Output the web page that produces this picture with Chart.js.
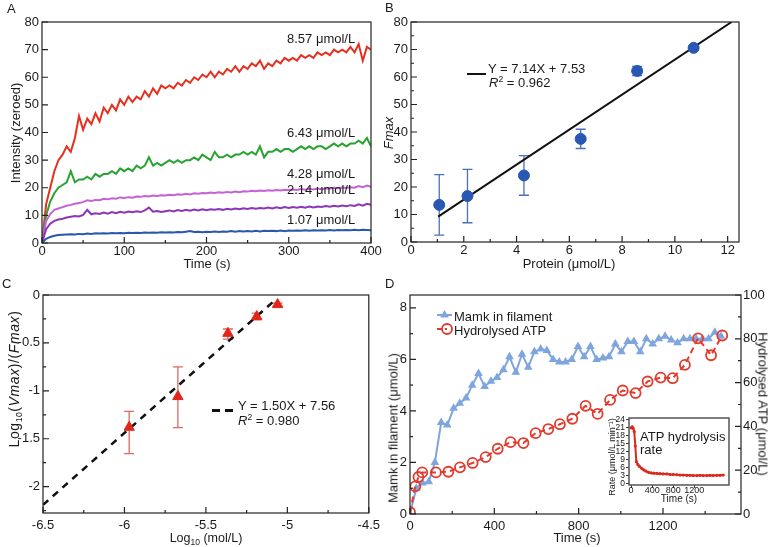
<!DOCTYPE html>
<html>
<head>
<meta charset="utf-8">
<script src="https://cdn.jsdelivr.net/npm/chart.js@4.4.0/dist/chart.umd.min.js"></script>
<style>
  html, body { margin: 0; padding: 0; background: #fff; }
  #fig { position: relative; width: 771px; height: 547px; overflow: hidden;
         font-family: 'Liberation Sans', Arial, Helvetica, sans-serif; color: #1a1a1a; }
  #fig canvas { position: absolute; }
  .t { position: absolute; font-size: 13px; line-height: 15px; white-space: nowrap; z-index: 5; }
  .c { transform: translate(-50%, -50%); }
  .r { transform: translate(-50%, -50%) rotate(-90deg); }
  .r2 { transform: translate(-50%, -50%) rotate(90deg); }
  .sub { font-size: 8.5px; position: relative; top: 3px; }
  .sup { font-size: 8.5px; position: relative; top: -5px; }
  .bar { position: absolute; background: #111; z-index: 5; }
</style>
</head>
<body>
<div id="fig">
  <canvas id="cA" width="385" height="275" style="left:0;top:0"></canvas>
  <canvas id="cB" width="396" height="275" style="left:375px;top:0"></canvas>
  <canvas id="cC" width="385" height="272" style="left:0;top:275px"></canvas>
  <canvas id="cD" width="396" height="272" style="left:375px;top:275px"></canvas>
  <canvas id="cI" width="135" height="100" style="left:600px;top:405px;z-index:3"></canvas>

  <!-- panel letters -->
  <div class="t" style="left:7px;top:1px">A</div>
  <div class="t" style="left:385px;top:0">B</div>
  <div class="t" style="left:2px;top:276px">C</div>
  <div class="t" style="left:385px;top:276px">D</div>

  <!-- A -->
  <div class="t" style="left:287px;top:31px">8.57 μmol/L</div>
  <div class="t" style="left:287px;top:125px">6.43 μmol/L</div>
  <div class="t" style="left:287px;top:166px">4.28 μmol/L</div>
  <div class="t" style="left:287px;top:182px">2.14 μmol/L</div>
  <div class="t" style="left:287px;top:212px">1.07 μmol/L</div>
  <div class="t c" style="left:207px;top:263px">Time (s)</div>
  <div class="t r" style="left:15px;top:133px">Intensity (zeroed)</div>

  <!-- B -->
  <div class="bar" style="left:467px;top:72.5px;width:19px;height:2.5px"></div>
  <div class="t" style="left:488px;top:60.5px">Y = 7.14X + 7.53</div>
  <div class="t" style="left:489px;top:74.5px"><i>R</i><span class="sup">2</span> = 0.962</div>
  <div class="t c" style="left:569px;top:263px">Protein (μmol/L)</div>
  <div class="t r" style="left:388px;top:133px"><i>Fmax</i></div>

  <!-- C -->
  <div class="bar" style="left:212px;top:408.5px;width:8px;height:3px"></div>
  <div class="bar" style="left:225px;top:408.5px;width:8px;height:3px"></div>
  <div class="t" style="left:238px;top:397.5px">Y = 1.50X + 7.56</div>
  <div class="t" style="left:238px;top:412.5px"><i>R</i><span class="sup">2</span> = 0.980</div>
  <div class="t c" style="left:206px;top:539px;font-size:12.5px">Log<span class="sub">10</span> (mol/L)</div>
  <div class="t r" style="left:15px;top:379px;font-size:14px;letter-spacing:0.6px">Log<span class="sub">10</span>(<i>Vmax</i>)/(<i>Fmax</i>)</div>

  <!-- D -->
  <div class="t" style="left:454px;top:308.5px">Mamk in filament</div>
  <div class="t" style="left:454px;top:322.5px">Hydrolysed ATP</div>
  <div class="t c" style="left:577px;top:537px">Time (s)</div>
  <div class="t r" style="left:393px;top:428px">Mamk in filament (μmol/L)</div>
  <div class="t r2" style="left:763px;top:404px">Hydrolysed ATP (μmol/L)</div>
  <div class="t" style="left:640px;top:429.5px;line-height:13.5px">ATP hydrolysis<br>rate</div>
  <div class="t c" style="left:679px;top:499px;font-size:10px;line-height:12px">Time (s)</div>
  <div class="t r" style="left:612px;top:457px;font-size:9px;line-height:11px">Rate (μmol/L min⁻¹)</div>
</div>

<script>
// ─── data: panel A (kinetic traces) ─────────────────────────────────────
const aT = [0,5,10,15,20,25,30,35,40,45,50,55,60,65,70,75,80,85,90,95,
  100,105,110,115,120,125,130,135,140,145,150,155,160,165,170,175,180,185,190,195,
  200,205,210,215,220,225,230,235,240,245,250,255,260,265,270,275,280,285,290,295,
  300,305,310,315,320,325,330,335,340,345,350,355,360,365,370,375,380,385,390,395,400];
const aRed = [0,14,20,26,30,32,35,33,38,46, 41,45,43,47,44,49,47,50,48,52,
  50,53,51,53,52,55,53,56,54,57, 56,57,56,58,57,59,58,60,59,61,
  60,62,60,62,61,63,62,64,62,64, 63,65,64,66,63,65,64,66,65,67,
  66,67,66,68,67,68,67,69,68,69, 68,70,69,70,69,71,69,72,66,71, 70];
const aGreen = [0,10,15,18,20,21,22,26,22,23, 23,24,23,25,24,25,25,26,25,27,
  26,27,26,28,27,28,31,28,29,28, 29,30,29,30,29,30,30,31,30,32,
  31,30,33,31,31,32,31,32,32,33, 32,33,32,35,31,33,33,34,33,34,
  34,33,34,35,34,35,34,35,35,34, 35,36,35,36,35,36,36,37,36,38, 35];
const aMagenta = [0,8,10.5,12,12.5,13,13.5,13.8,14.2,14.5, 14.8,15.5,15.2,15.6,15.5,16,15.8,16.2,16,16.5,
  16.3,16.6,16.4,16.8,16.7,17,16.8,17.2,17,17.3, 17.2,17.5,17.3,17.6,17.5,17.8,17.6,18,17.8,18.1,
  18,18.3,18.1,18.4,18.2,18.5,18.3,18.6,18.4,18.7, 18.6,18.9,18.7,19,18.8,19.1,18.9,19.2,19,19.3,
  19.2,19.4,19.2,19.5,19.3,19.6,19.4,19.7,19.5,19.8, 19.7,20,19.8,20.1,19.9,20.2,20,20.6,20.2,20.8, 20.3];
const aPurple = [0,5,7,8,8.5,8.8,9.2,9.5,9.8,9.6, 10.2,12,10.4,10.8,10.5,11,10.6,11.2,10.8,11.3,
  11,11.4,11.1,11.5,11.2,11.8,12.8,11.3,11.6,11.2, 11.5,11.8,11.4,11.9,11.6,12,11.7,12.1,11.8,12.2,
  11.9,12.2,12,12.3,12,12.4,12.1,12.5,12.2,12.6, 12.3,12.7,12.4,12.7,12.5,12.8,12.5,12.9,12.6,13,
  12.7,13,12.8,13.1,12.8,13.2,12.9,13.2,13,13.4, 13.1,13.5,13.2,13.6,13.3,13.7,13.4,14,13.5,14.2, 13.8];
const aBlue = [0,1.5,2.2,2.6,2.9,3,3.1,3.2,3.1,3.3, 3.2,3.4,3.3,3.5,3.4,3.5,3.4,3.6,3.5,3.6,
  3.5,3.7,3.6,3.7,3.6,3.8,3.7,3.8,3.7,3.9, 3.8,3.9,3.8,4,3.9,4.1,4.3,4,4.1,3.9,
  4.1,4,4.2,4,4.2,4.1,4.3,4.1,4.3,4.2, 4.3,4.2,4.4,4.2,4.4,4.3,4.4,4.3,4.5,4.3,
  4.5,4.4,4.5,4.4,4.6,4.4,4.6,4.5,4.6,4.5, 4.7,4.5,4.7,4.6,4.7,4.6,4.8,4.6,4.8,4.7, 4.6];
const aXTicks = [0, 100, 200, 300, 400];
const aXMinor = [50, 150, 250, 350];
const aYTicks = [0, 10, 20, 30, 40, 50, 60, 70, 80];

// ─── data: panel B (Fmax vs protein) ────────────────────────────────────
const bProtein = [1.07, 2.14, 4.28, 6.43, 8.57, 10.71];
const bFmax = [13.5, 16.7, 24.2, 37.5, 62.2, 70.6];
const bErr = [11, 9.7, 7.2, 3.5, 1.7, 0.8];
const bFitX = [1.03, 12.15];
const bFitY = [9.2, 80];
const bXTicks = [0, 2, 4, 6, 8, 10, 12];
const bXMinor = [1, 3, 5, 7, 9, 11];
const bYTicks = [0, 10, 20, 30, 40, 50, 60, 70, 80];
const bYMinor = [5, 15, 25, 35, 45, 55, 65, 75];

// ─── data: panel C (log-log) ────────────────────────────────────────────
const cLogC = [-5.971, -5.672, -5.365, -5.188, -5.06];
const cLogV = [-1.38, -1.06, -0.40, -0.225, -0.10];
const cHigh = [-1.215, -0.75, -0.355, -0.19, -0.085];
const cLow = [-1.655, -1.385, -0.46, -0.26, -0.115];
const cFitX = [-6.5, -5.08];
const cFitY = [-2.19, -0.06];
const cXTicks = [-6.5, -6, -5.5, -5, -4.5];
const cXMinor = [-6.25, -5.75, -5.25, -4.75];
const cYTicks = [0, -0.5, -1, -1.5, -2];
const cYMinor = [-0.25, -0.75, -1.25, -1.75, -2.25];

// ─── data: panel D (filament + ATP) ─────────────────────────────────────
const dMamkT = [0,30,59,89,118,148,177,207,236,266,295,325,354,384,413,443,472,502,531,561,
  590,620,649,679,708,738,767,797,826,856,885,915,944,974,1003,1033,1062,1092,1121,1151,
  1180,1210,1239,1269,1298,1328,1357,1387,1416,1446,1475];
const dMamk = [0,1.0,1.2,1.25,2.0,3.55,3.45,4.1,4.3,4.5, 5.0,5.45,4.95,5.15,5.3,5.6,6.1,5.5,6.2,5.7,
  6.3,6.4,6.35,6.0,5.9,5.9,6.0,6.5,6.1,6.5, 6.0,6.05,6.1,6.6,6.3,6.7,6.7,6.3,6.8,6.6,
  6.8,6.9,6.75,6.65,6.8,6.8,6.8,6.8,6.8,7.05,6.9];
const dAtpT = [0,25,40,58,123,182,237,297,359,416,477,538,596,656,711,770,833,890,949,1009,
  1070,1127,1189,1246,1304,1366,1428,1481];
const dAtp = [0.8,12.6,16.9,19.0,19.0,19.3,21.3,23.3,26.0,29.8,32.8,32.4,36.9,38.8,41.0,43.5,49.4,45.7,52.1,56.4,
  55.2,60.5,62.3,62.0,68.1,80.2,72.5,81.5];
const dXTicks = [0, 400, 800, 1200];
const dXMinor = [200, 600, 1000, 1400];
const dYTicks = [0, 2, 4, 6, 8];
const dYMinor = [1, 3, 5, 7];
const dY1Ticks = [0, 20, 40, 60, 80, 100];
const dY1Minor = [10, 30, 50, 70, 90];

// inset: ATP hydrolysis rate
const iT = [0,20,40,60,80,100,130,160,200,240,280,330,380,430,490,550,610,680,740,800,
  870,930,990,1060,1120,1180,1250,1310,1370,1440,1500,1560,1630,1690,1750];
const iRate = [20.8,21.2,20.6,19.4,14,8.1,7.0,6.3,5.6,5.0,4.6,4.1,3.9,3.8,3.7,3.6,3.5,3.5,3.3,3.3,
  3.2,3.1,3.1,3.0,3.0,2.9,2.9,3.0,2.9,2.9,3.0,2.9,3.0,3.0,3.1];
const iXTicks = [0, 400, 800, 1200];
const iYTicks = [0, 3, 6, 9, 12, 15, 18, 21, 24];

// ─── helpers ────────────────────────────────────────────────────────────
const INK = '#1a1a1a';
const FONT = "'Liberation Sans', Arial, Helvetica, sans-serif";
Chart.defaults.font.family = FONT;
Chart.defaults.color = INK;

const xy = (xs, ys) => xs.map((x, i) => ({ x: x, y: ys[i] }));

// box round the plot area, ticks pointing inward
const framePlugin = {
  id: 'frame',
  beforeDraw(chart, args, o) {
    if (!o.fill) return;
    const a = chart.chartArea, ctx = chart.ctx;
    ctx.save();
    ctx.fillStyle = o.fill;
    ctx.fillRect(a.left, a.top, a.right - a.left, a.bottom - a.top);
    ctx.restore();
  },
  afterDraw(chart, args, o) {
    const a = chart.chartArea, ctx = chart.ctx;
    ctx.save();
    ctx.strokeStyle = o.color || '#222';
    ctx.lineWidth = o.width || 1.2;
    ctx.strokeRect(a.left, a.top, a.right - a.left, a.bottom - a.top);
    if (!o.noTicks) {
      ctx.beginPath();
      Object.values(chart.scales).forEach(s => {
        const minor = (o.minor && o.minor[s.id]) || [];
        const marks = s.ticks.map(t => [t.value, 6]).concat(minor.map(v => [v, 3]));
        marks.forEach(([v, len]) => {
          const p = s.getPixelForValue(v);
          if (s.isHorizontal()) { ctx.moveTo(p, a.bottom); ctx.lineTo(p, a.bottom - len); }
          else if (s.position === 'right') { ctx.moveTo(a.right, p); ctx.lineTo(a.right - len, p); }
          else { ctx.moveTo(a.left, p); ctx.lineTo(a.left + len, p); }
        });
      });
      ctx.stroke();
    }
    ctx.restore();
  }
};

// vertical error bars with caps
const errPlugin = {
  id: 'errbars',
  beforeDatasetsDraw(chart, args, o) {
    if (!o.xs) return;
    const sx = chart.scales.x, sy = chart.scales.y, ctx = chart.ctx;
    ctx.save();
    ctx.strokeStyle = o.color;
    ctx.lineWidth = 1.3;
    ctx.beginPath();
    o.xs.forEach((xv, i) => {
      const px = sx.getPixelForValue(xv);
      const p1 = sy.getPixelForValue(o.lo[i]), p2 = sy.getPixelForValue(o.hi[i]);
      ctx.moveTo(px, p1); ctx.lineTo(px, p2);
      ctx.moveTo(px - 5, p1); ctx.lineTo(px + 5, p1);
      ctx.moveTo(px - 5, p2); ctx.lineTo(px + 5, p2);
    });
    ctx.stroke();
    ctx.restore();
  }
};
Chart.register(framePlugin, errPlugin);

function axis(min, max, ticks, extra, fontSize) {
  return Object.assign({
    type: 'linear', min: min, max: max,
    grid: { display: false, drawTicks: false }, border: { display: false },
    afterBuildTicks: s => { s.ticks = ticks.map(v => ({ value: v })); },
    ticks: { font: { size: fontSize || 13 }, color: INK, padding: 3, autoSkip: false,
             maxRotation: 0, callback: v => String(v) },
  }, extra);
}
function fitW(w) { return s => { s.width = w; }; }
function fitH(h) { return s => { s.height = h; }; }

function options(pad, scales, plugins) {
  return {
    responsive: false, animation: false, devicePixelRatio: 1, events: [],
    layout: { padding: pad },
    plugins: Object.assign({ legend: { display: false }, tooltip: { enabled: false } }, plugins),
    scales: scales,
  };
}

// ─── A ──────────────────────────────────────────────────────────────────
function trace(ys, color) {
  return { data: xy(aT, ys), showLine: true, pointRadius: 0, borderColor: color, borderWidth: 2 };
}
const xA = axis(0, 400, aXTicks, { afterFit: fitH(32) }); xA.ticks.padding = 1;
new Chart(document.getElementById('cA'), {
  type: 'scatter',
  data: { datasets: [
    trace(aBlue, '#2b57ad'), trace(aPurple, '#8b36b8'), trace(aMagenta, '#c462d3'),
    trace(aGreen, '#28a231'), trace(aRed, '#e5301f'),
  ] },
  options: options({ top: 22, right: 14 }, {
    x: xA,
    y: axis(0, 80, aYTicks, { afterFit: fitW(42) }),
  }, { frame: { minor: { x: aXMinor } } }),
});

// ─── B ──────────────────────────────────────────────────────────────────
const xB = axis(0, 12.43, bXTicks, { afterFit: fitH(33) }); xB.ticks.padding = 1;
new Chart(document.getElementById('cB'), {
  type: 'scatter',
  data: { datasets: [
    { data: xy(bProtein, bFmax), pointRadius: 5.5, pointBackgroundColor: '#2857b4',
      pointBorderColor: '#2857b4', pointBorderWidth: 1, order: 0 },
    { data: xy(bFitX, bFitY), showLine: true, pointRadius: 0, borderColor: '#111', borderWidth: 2, order: 1 },
  ] },
  options: options({ top: 22, right: 32 }, {
    x: xB,
    y: axis(0, 80, bYTicks, { afterFit: fitW(36) }),
  }, {
    frame: { minor: { x: bXMinor, y: bYMinor } },
    errbars: { xs: bProtein, lo: bFmax.map((v, i) => v - bErr[i]), hi: bFmax.map((v, i) => v + bErr[i]), color: '#4a70b8' },
  }),
});

// ─── C ──────────────────────────────────────────────────────────────────
const xC = axis(-6.5, -4.5, cXTicks, { afterFit: fitH(34) }); xC.ticks.padding = 5;
new Chart(document.getElementById('cC'), {
  type: 'scatter',
  data: { datasets: [
    { data: xy(cLogC, cLogV), pointStyle: 'triangle', pointRadius: 6, pointBackgroundColor: '#e3261b',
      pointBorderColor: '#e3261b', pointBorderWidth: 1, order: 0 },
    { data: xy(cFitX, cFitY), showLine: true, pointRadius: 0, borderColor: '#111', borderWidth: 2.5,
      borderDash: [7, 6], order: 1 },
  ] },
  options: options({ top: 20, right: 14 }, {
    x: xC,
    y: axis(-2.275, 0, cYTicks, { afterFit: fitW(43) }),
  }, {
    frame: { minor: { x: cXMinor, y: cYMinor } },
    errbars: { xs: cLogC, lo: cLow, hi: cHigh, color: '#e0685c' },
  }),
});

// ─── D ──────────────────────────────────────────────────────────────────
const BLUE_D = '#7ea5de', RED_D = '#e23a2c';
const dLegend = {
  id: 'dlegend',
  afterDatasetsDraw(chart) {
    const ctx = chart.ctx;
    ctx.save();
    ctx.lineWidth = 2;
    ctx.strokeStyle = BLUE_D; ctx.fillStyle = BLUE_D;
    ctx.beginPath(); ctx.moveTo(62, 40); ctx.lineTo(77, 40); ctx.stroke();
    Chart.helpers.drawPoint(ctx, { pointStyle: 'triangle', radius: 5, borderWidth: 0 }, 69.5, 40);
    ctx.strokeStyle = RED_D;
    ctx.setLineDash([5, 3]);
    ctx.beginPath(); ctx.moveTo(62, 54); ctx.lineTo(72, 54); ctx.stroke();
    ctx.setLineDash([]);
    ctx.lineWidth = 1.8;
    ctx.fillStyle = 'rgba(255,255,255,0)';
    Chart.helpers.drawPoint(ctx, { pointStyle: 'circle', radius: 5, borderWidth: 1.8 }, 72, 54);
    ctx.restore();
  }
};
const xD = axis(0, 1570, dXTicks, { afterFit: fitH(33) }); xD.ticks.padding = 5;
const y1D = axis(0, 100, dY1Ticks, { position: 'right', afterFit: fitW(30) }); y1D.ticks.padding = 2;
new Chart(document.getElementById('cD'), {
  type: 'scatter',
  data: { datasets: [
    { data: xy(dAtpT, dAtp), yAxisID: 'y1', showLine: true, borderColor: RED_D, borderWidth: 2,
      borderDash: [6, 4], pointStyle: 'circle', pointRadius: 5, pointBorderWidth: 1.8,
      pointBorderColor: RED_D, pointBackgroundColor: 'rgba(255,255,255,0)', order: 0 },
    { data: xy(dMamkT, dMamk), showLine: true, borderColor: BLUE_D, borderWidth: 2,
      pointStyle: 'triangle', pointRadius: 5, pointBackgroundColor: BLUE_D, pointBorderColor: BLUE_D,
      pointBorderWidth: 0, order: 1 },
  ] },
  options: options({ top: 20, right: 0 }, {
    x: xD,
    y: axis(0, 8.5, dYTicks, { afterFit: fitW(35) }),
    y1: y1D,
  }, { frame: { minor: { x: dXMinor, y: dYMinor, y1: dY1Minor } } }),
  plugins: [dLegend],
});

// ─── inset ──────────────────────────────────────────────────────────────
const nativeTicks = { display: true, drawOnChartArea: false, drawTicks: true, tickLength: 3, color: '#333' };
const xI = axis(-40, 1860, iXTicks, { afterFit: fitH(20), grid: nativeTicks }, 9); xI.ticks.padding = -3;
const yI = axis(-0.64, 24.5, iYTicks, { afterFit: fitW(29), grid: nativeTicks }, 8.5); yI.ticks.padding = 1;
new Chart(document.getElementById('cI'), {
  type: 'scatter',
  data: { datasets: [
    { data: xy(iT, iRate), showLine: true, borderColor: '#d9291c', borderWidth: 2,
      pointRadius: 1.6, pointBackgroundColor: '#d9291c', pointBorderWidth: 0 },
  ] },
  options: options({ top: 13, right: 6 }, { x: xI, y: yI },
    { frame: { noTicks: true, fill: '#fff', color: '#555', width: 1.5 } }),
});
</script>
</body>
</html>
